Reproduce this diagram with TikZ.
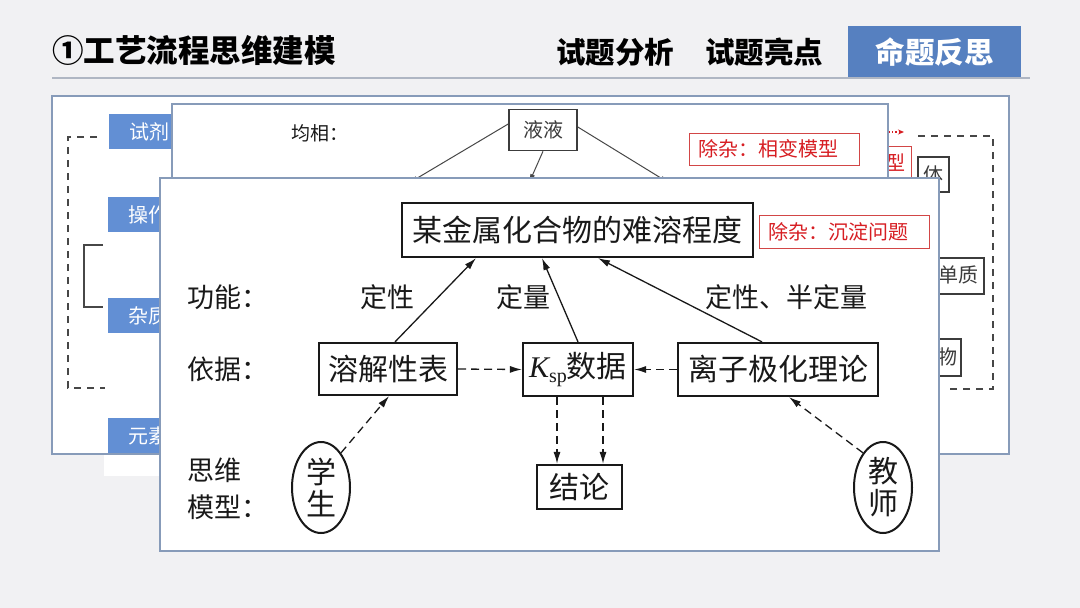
\documentclass[tikz,border=0pt]{standalone}
\usepackage{fontspec}
\setmainfont{Noto Sans CJK SC}
\newfontfamily\timesf{Liberation Serif}
\usetikzlibrary{arrows.meta,calc,shapes.geometric}
\definecolor{slidebg}{RGB}{241,241,243}
\definecolor{tabblue}{RGB}{86,128,192}
\definecolor{lblblue}{RGB}{98,143,212}
\definecolor{pborder}{RGB}{135,155,185}
\definecolor{rulegray}{RGB}{175,182,195}
\definecolor{redtxt}{RGB}{215,30,35}
\definecolor{redbox}{RGB}{210,70,70}
\definecolor{ink}{RGB}{25,25,25}
\tikzset{
  fs/.style={font=\fontsize{#1}{#1}\selectfont},
  panel/.style={fill=white, draw=pborder, line width=1.2pt},
  fbox/.style={draw=ink, line width=2.2pt, inner sep=0pt, fs=30, text=ink},
  sbox/.style={draw=ink!85, line width=1.6pt, inner sep=0pt, fs=20, text=ink!85},
  tag/.style={draw=redbox, line width=0.8pt, text=redtxt, fs=20, inner xsep=9pt, inner ysep=0pt, text width=152pt, align=left},
  lbl/.style={fill=lblblue, text=white, fs=20, inner sep=0pt},
  plain/.style={fs=27, text=ink, inner sep=0pt},
  arr/.style={draw=ink, line width=1.3pt, -{Latex[length=12pt,width=7pt]}},
  darr/.style={arr, dash pattern=on 8pt off 5pt},
  thin/.style={draw=ink!80, line width=1pt, -{Latex[length=9pt,width=5pt]}},
  bdash/.style={draw=ink!80, line width=1.4pt, dash pattern=on 7pt off 6pt},
  oval/.style={ellipse, draw=ink, line width=2pt, minimum width=58pt, minimum height=91pt, inner sep=0pt, fs=30, text=ink, align=center}
}
\begin{document}
\begin{tikzpicture}[x=1pt,y=-1pt]
\useasboundingbox (0,0) rectangle (1080,608);
\fill[slidebg] (0,0) rectangle (1080,608);

% header
\node[anchor=west, fs=31.5, text=black, inner sep=0pt] (title) at (52,50) {\bfseries ①工艺流程思维建模};
\node[fs=29.5, text=black, inner sep=0pt] (tab1) at (615,52) {\bfseries 试题分析};
\node[fs=29.5, text=black, inner sep=0pt] (tab2) at (764,52) {\bfseries 试题亮点};
\node[fill=tabblue, text=white, fs=29.5, minimum width=173pt, minimum height=52pt, inner sep=0pt] (tab3) at (934.5,52) {\bfseries 命题反思};
\draw[rulegray, line width=1.2pt] (52,78) -- (1030,78);

% back panel
\draw[panel] (52,96) rectangle (1009,454);
\fill[white] (104,454.6) rectangle (172,476);
\node[lbl, minimum width=90pt, minimum height=35pt] (b1) at (154,131.5) {};
\node[lbl, anchor=west] at (129,131.5) {试剂};
\node[lbl, minimum width=90pt, minimum height=35pt] (b2) at (153,214.5) {};
\node[lbl, anchor=west] at (128,214.5) {操作};
\node[lbl, minimum width=90pt, minimum height=35pt] (b3) at (153,315.5) {};
\node[lbl, anchor=west] at (128,315.5) {杂质};
\node[lbl, minimum width=90pt, minimum height=35pt] (b4) at (153,435.5) {};
\node[lbl, anchor=west] at (128,435.5) {元素};
\draw[bdash] (97,137) -- (68,137) -- (68,388) -- (105,388);
\draw[draw=ink!80, line width=1.4pt] (103,245) -- (84,245) -- (84,307) -- (103,307);
% right side of back panel
\node[draw=redbox, line width=0.8pt, inner sep=0pt, minimum width=170pt, minimum height=34pt, anchor=north east] (r0) at (912,146) {};
\node[text=redtxt, fs=20, inner sep=0pt, anchor=east] (r0t) at (906,163) {型};
\coordinate (ra) at (889,132);
\coordinate (rb) at (904,132);
\draw[redtxt, line width=1.2pt, dotted, -{Stealth[length=6pt,width=5pt]}] (ra) -- (rb);
\node[sbox, minimum width=31pt, minimum height=35pt] (q1) at (933.5,174.5) {体};
\node[sbox, minimum width=70pt, minimum height=36pt, anchor=north east] (q2) at (985,257) {};
\node[fs=20, text=ink!85, inner sep=0pt, anchor=east] (q2t) at (979,275) {单质};
\node[sbox, minimum width=90pt, minimum height=37pt, anchor=north east] (q3) at (962,338) {};
\node[fs=20, text=ink!85, inner sep=0pt, anchor=east] (q3t) at (958,356.5) {化合物};
\draw[bdash] (918,136) -- (993,136) -- (993,389) -- (945,389);

% middle panel
\draw[panel] (172,104) rectangle (888,476);
\node[anchor=west, fs=19, text=ink, inner sep=0pt] (jx) at (291,133) {均相：};
\node[sbox, minimum width=68pt, minimum height=41pt] (liq) at (543,130) {液液};
\coordinate (m1) at (409,183);
\coordinate (m2) at (529,183);
\coordinate (m3) at (669,183);
\draw[thin] ([yshift=6]liq.west) -- (m1);
\draw[thin] (liq.south) -- (m2);
\draw[thin] ([yshift=3]liq.east) -- (m3);
\node[tag, minimum height=32pt] (red1) at (774,149) {除杂：相变模型};

% front panel
\draw[panel] (160,178) rectangle (939,551);
\node[fbox, minimum width=351pt, minimum height=54pt] (top) at (577.5,230) {某金属化合物的难溶程度};
\node[tag, minimum height=33pt] (red2) at (844,231.5) {除杂：沉淀问题};

\node[plain, anchor=west] (f1) at (187,297) {功能：};
\node[plain, anchor=west] (f2) at (187,369) {依据：};
\node[plain, anchor=west] (f3) at (187,470) {思维};
\node[plain, anchor=west] (f4) at (187,507) {模型：};

\node[plain] (l1) at (387,297) {定性};
\node[plain] (l2) at (523,297) {定量};
\node[plain] (l3) at (786,297) {定性、半定量};

\node[fbox, minimum width=138pt, minimum height=52pt] (sol) at (388,369) {溶解性表};
\node[fbox, minimum width=110pt, minimum height=53pt] (ksp) at (578,369.5) {{\timesf\itshape K}\raisebox{-0.35ex}{\timesf\fontsize{20}{20}\selectfont sp}数据};
\node[fbox, minimum width=200pt, minimum height=53pt] (ion) at (778,369.5) {离子极化理论};
\node[fbox, minimum width=85pt, minimum height=44pt] (concl) at (579.5,487) {结论};
\node[oval] (stu) at (321,487.5) {学\\[2pt]生};
\node[oval] (tea) at (883,487.5) {教\\[2pt]师};

\draw[arr] ([xshift=7]sol.north) -- ([xshift=-101.5]top.south);
\draw[arr] (ksp.north) -- ([xshift=-35.5]top.south);
\draw[arr] ([xshift=-16]ion.north) -- ([xshift=20.5]top.south);
\draw[darr] (sol.east) -- (ksp.west);
\draw[darr] (ion.west) -- (ksp.east);
\draw[darr] ([xshift=-21]ksp.south) -- ([xshift=-22.5]concl.north);
\draw[darr] ([xshift=25]ksp.south) -- ([xshift=23.5]concl.north);
\draw[darr] (stu.60) -- ([xshift=1]sol.south);
\draw[darr] (tea.120) -- ([xshift=11]ion.south);
\end{tikzpicture}
\end{document}
